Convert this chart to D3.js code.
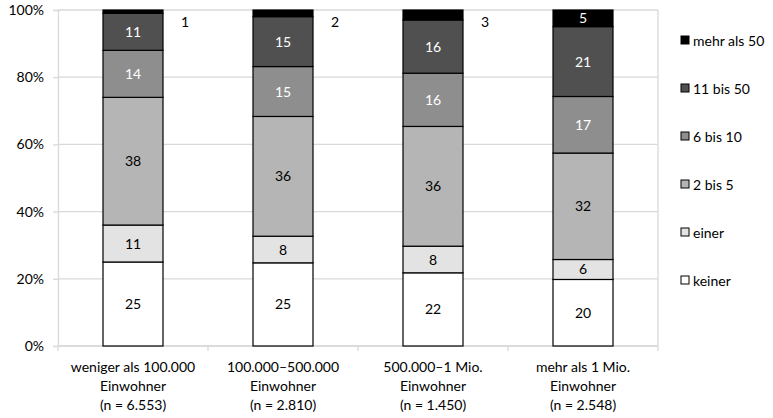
<!DOCTYPE html>
<html><head><meta charset="utf-8">
<script src="https://cdn.jsdelivr.net/npm/d3@7"></script>
<style>
body{margin:0;background:#fff;}
text{font-family:Lato,"Open Sans",sans-serif;}
</style></head>
<body><svg id="c" width="773" height="418"></svg>
<script>
const categories = [
  ["weniger als 100.000","Einwohner","(n = 6.553)"],
  ["100.000–500.000","Einwohner","(n = 2.810)"],
  ["500.000–1 Mio.","Einwohner","(n = 1.450)"],
  ["mehr als 1 Mio.","Einwohner","(n = 2.548)"]
];
const seriesNames = ["keiner","einer","2 bis 5","6 bis 10","11 bis 50","mehr als 50"];
const keiner    = [25, 25, 22, 20];
const einer     = [11, 8, 8, 6];
const zweiBis5  = [38, 36, 36, 32];
const sechsBis10= [14, 15, 16, 17];
const elfBis50  = [11, 15, 16, 21];
const mehrAls50 = [1, 2, 3, 5];
const yTicks = [0, 0.2, 0.4, 0.6, 0.8, 1];

const seriesValues = [keiner, einer, zweiBis5, sechsBis10, elfBis50, mehrAls50];
const fills = ["#ffffff","#e3e3e3","#b5b5b5","#8e8e8e","#505050","#000000"];
const textFill = ["#000","#000","#000","#fff","#fff","#fff"];
const FS = 14;

const svg = d3.select("#c");
const L = 58, R = 658, T = 10, B = 346;
const x = d3.scaleBand().domain(d3.range(categories.length)).range([L, R]).paddingInner(0.6).paddingOuter(0.3);
const y = d3.scaleLinear().domain([0, 1]).range([B, T]);

svg.append("g").selectAll("line").data(yTicks).join("line")
  .attr("x1", L).attr("x2", R).attr("y1", d => y(d)).attr("y2", d => y(d))
  .attr("stroke", "#d9d9d9").attr("stroke-width", 1.3);
svg.append("line").attr("x1", R).attr("x2", R).attr("y1", T).attr("y2", B).attr("stroke", "#d9d9d9").attr("stroke-width", 1.3);

const yAxis = d3.axisLeft(y).tickValues(yTicks).tickFormat(d3.format(".0%")).tickSize(5).tickPadding(9);
const ya = svg.append("g").attr("transform", `translate(${L},0)`).call(yAxis);
ya.select(".domain").attr("stroke", "#d9d9d9").attr("stroke-width", 1.3);
ya.selectAll(".tick line").attr("stroke", "#d9d9d9").attr("stroke-width", 1.3);
ya.selectAll("text").attr("font-size", FS).attr("fill", "#000").attr("font-family", "Lato,sans-serif");

svg.append("line").attr("x1", L).attr("x2", R).attr("y1", B).attr("y2", B).attr("stroke", "#d9d9d9").attr("stroke-width", 1.3);
const step = x.step();
svg.append("g").selectAll("line").data(d3.range(categories.length + 1)).join("line")
  .attr("x1", d => L + d * step).attr("x2", d => L + d * step)
  .attr("y1", B).attr("y2", B + 5).attr("stroke", "#d9d9d9").attr("stroke-width", 1.3);

const xl = svg.append("g");
categories.forEach((lines, i) => {
  const t = xl.append("text").attr("text-anchor", "middle").attr("font-size", FS).attr("fill", "#000");
  lines.forEach((ln, j) => {
    t.append("tspan").attr("x", x(i) + x.bandwidth() / 2).attr("y", 372 + j * 19).text(ln);
  });
});

const stacks = categories.map((c, i) => {
  const vals = seriesValues.map(s => s[i]);
  const total = d3.sum(vals);
  let acc = 0;
  return vals.map((v, k) => { const y0 = acc / total; acc += v; return {i, k, v, y0, y1: acc / total}; });
});

const bars = svg.append("g");
stacks.forEach(st => {
  st.forEach(d => {
    bars.append("rect").attr("x", x(d.i)).attr("width", x.bandwidth())
      .attr("y", y(d.y1)).attr("height", y(d.y0) - y(d.y1))
      .attr("fill", fills[d.k]).attr("stroke", "#000").attr("stroke-width", 1.2);
  });
});
stacks.forEach(st => {
  st.forEach(d => {
    const h = y(d.y0) - y(d.y1);
    let tx = x(d.i) + x.bandwidth() / 2, ty = (y(d.y0) + y(d.y1)) / 2 + 5, col = textFill[d.k];
    if (d.k === 5 && h < 12) { tx = x(d.i) + x.bandwidth() + 22; ty = 27; col = "#000"; }
    bars.append("text").attr("x", tx).attr("y", ty).attr("text-anchor", "middle")
      .attr("font-size", FS).attr("fill", col).text(d.v);
  });
});

const lg = svg.append("g");
const order = [5, 4, 3, 2, 1, 0];
order.forEach((k, j) => {
  const ly = 41 + j * 48;
  lg.append("rect").attr("x", 681).attr("y", ly - 5).attr("width", 8).attr("height", 8)
    .attr("fill", fills[k]).attr("stroke", "#000").attr("stroke-width", 1);
  lg.append("text").attr("x", 693).attr("y", ly + 4.5).attr("font-size", FS).attr("fill", "#000").text(seriesNames[k]);
});
</script></body></html>
